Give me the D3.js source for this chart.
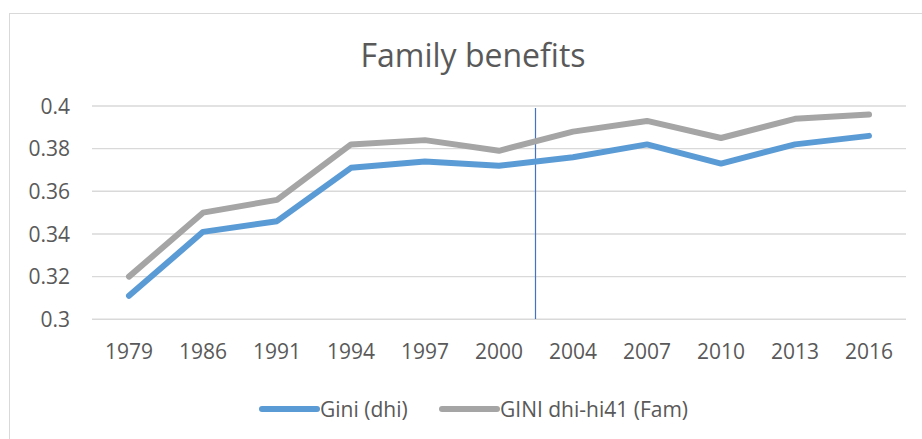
<!DOCTYPE html>
<html>
<head>
<meta charset="utf-8">
<script src="https://cdn.jsdelivr.net/npm/d3@7"></script>
<style>
  body { margin: 0; background: #fff; }
  text { font-family: "Open Sans", sans-serif; fill: #595959; }
</style>
</head>
<body>
<div id="chart"></div>
<script>
// data
var years = ["1979", "1986", "1991", "1994", "1997", "2000", "2004", "2007", "2010", "2013", "2016"];
var giniDhi = [0.311, 0.341, 0.346, 0.371, 0.374, 0.372, 0.376, 0.382, 0.373, 0.382, 0.386];
var giniFam = [0.320, 0.350, 0.356, 0.382, 0.384, 0.379, 0.388, 0.393, 0.385, 0.394, 0.396];
var yTicks = [0.3, 0.32, 0.34, 0.36, 0.38, 0.4];
var seriesNames = ["Gini (dhi)", "GINI dhi-hi41 (Fam)"];
var dividerBefore = "2004";

var width = 922;
var height = 439;

var svg = d3.select("#chart")
    .append("svg")
    .attr("width", width)
    .attr("height", height);

// chart border (runs off the right and bottom edge)
svg.append("rect")
    .attr("x", 9.5)
    .attr("y", 13.5)
    .attr("width", 1000)
    .attr("height", 1000)
    .attr("fill", "none")
    .attr("stroke", "#d9d9d9");

// title
svg.append("text")
    .attr("x", 473)
    .attr("y", 67)
    .attr("text-anchor", "middle")
    .style("font-size", "32px")
    .text("Family benefits");

// scales
var x = d3.scaleBand()
    .domain(years)
    .range([92, 906]);

var y = d3.scaleLinear()
    .domain([0.3, 0.4])
    .range([319.3, 106]);

// gridlines
svg.append("g")
    .selectAll("line")
    .data(yTicks)
    .enter()
    .append("line")
    .attr("x1", 92)
    .attr("x2", 906)
    .attr("y1", function(d) { return y(d); })
    .attr("y2", function(d) { return y(d); })
    .attr("stroke", "#d9d9d9")
    .attr("stroke-width", 1.4);

// y axis labels
svg.append("g")
    .selectAll("text")
    .data(yTicks)
    .enter()
    .append("text")
    .attr("x", 70)
    .attr("y", function(d) { return y(d); })
    .attr("dy", "0.36em")
    .attr("text-anchor", "end")
    .style("font-size", "21px")
    .text(function(d) { return d3.format("")(+d.toFixed(2)); });

// x axis labels
svg.append("g")
    .selectAll("text")
    .data(years)
    .enter()
    .append("text")
    .attr("x", function(d) { return x(d) + x.bandwidth() / 2; })
    .attr("y", 359)
    .attr("text-anchor", "middle")
    .style("font-size", "21px")
    .text(function(d) { return d; });

// divider line
svg.append("line")
    .attr("x1", x(dividerBefore) - 0.5)
    .attr("x2", x(dividerBefore) - 0.5)
    .attr("y1", 108)
    .attr("y2", 319)
    .attr("stroke", "#4472c4")
    .attr("stroke-width", 1.2);

// lines
var line = d3.line()
    .x(function(d, i) { return x(years[i]) + x.bandwidth() / 2; })
    .y(function(d) { return y(d); });

var series = [
    { name: seriesNames[0], values: giniDhi, color: "#5b9bd5" },
    { name: seriesNames[1], values: giniFam, color: "#a5a5a5" }
];

svg.append("g")
    .selectAll("path")
    .data(series)
    .enter()
    .append("path")
    .attr("d", function(d) { return line(d.values); })
    .attr("fill", "none")
    .attr("stroke", function(d) { return d.color; })
    .attr("stroke-width", 6)
    .attr("stroke-linecap", "round")
    .attr("stroke-linejoin", "round");

// legend
var legendX = [262, 442];
var legend = svg.append("g")
    .selectAll("g")
    .data(series)
    .enter()
    .append("g")
    .attr("transform", function(d, i) { return "translate(" + legendX[i] + ",409)"; });

legend.append("line")
    .attr("x1", 0)
    .attr("x2", 55)
    .attr("stroke", function(d) { return d.color; })
    .attr("stroke-width", 6)
    .attr("stroke-linecap", "round");

legend.append("text")
    .attr("x", 58)
    .attr("dy", "0.36em")
    .style("font-size", "21px")
    .text(function(d) { return d.name; });
</script>
</body>
</html>
